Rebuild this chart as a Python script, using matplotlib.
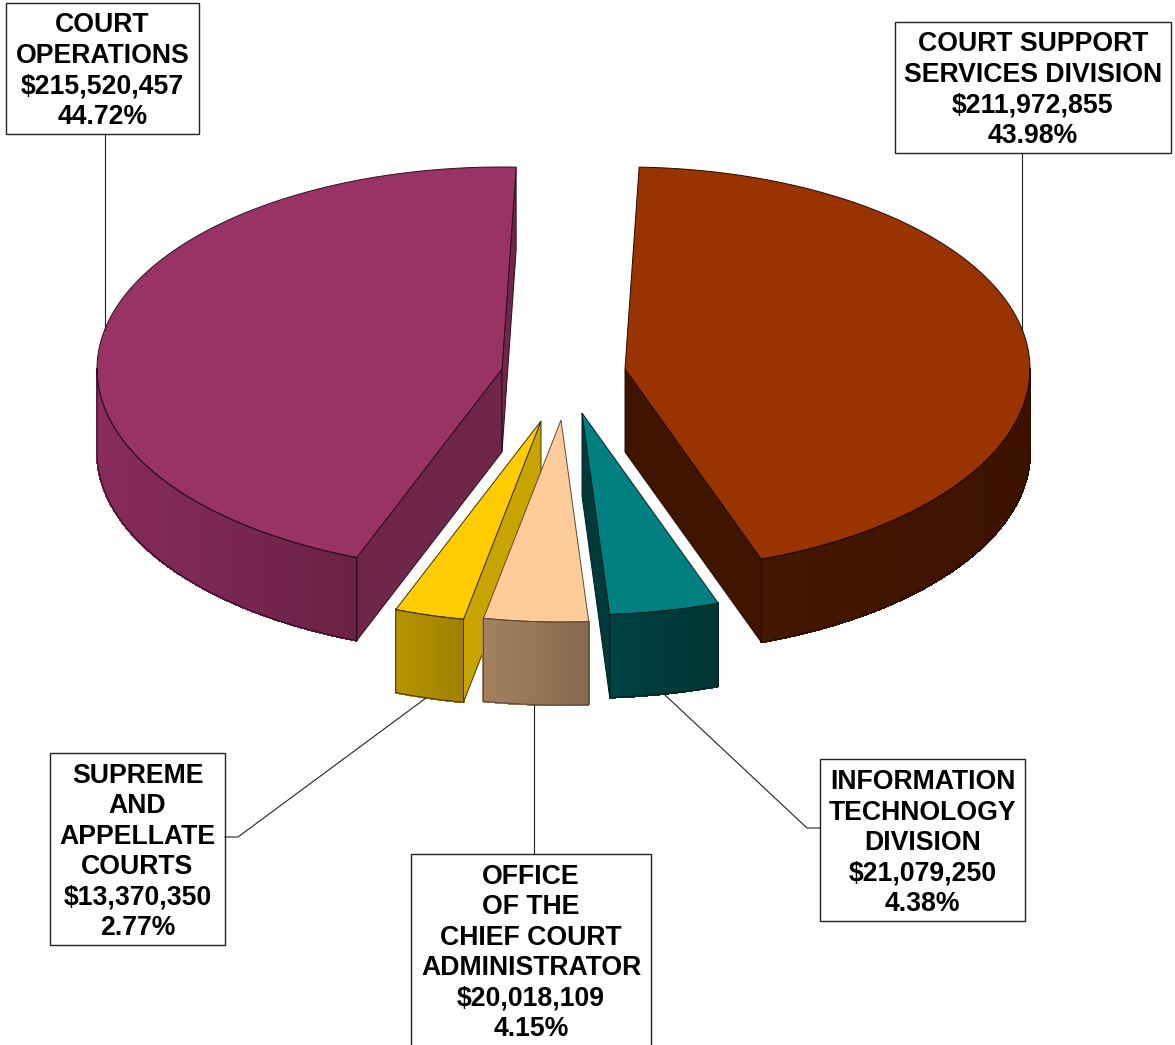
import numpy as np
import matplotlib
matplotlib.use("Agg")
import matplotlib.pyplot as plt
from matplotlib.colors import to_rgb

# data, clockwise from the top of the pie
names = ["COURT SUPPORT\nSERVICES DIVISION", "INFORMATION\nTECHNOLOGY\nDIVISION",
         "OFFICE\nOF THE\nCHIEF COURT\nADMINISTRATOR", "SUPREME\nAND\nAPPELLATE\nCOURTS",
         "COURT\nOPERATIONS"]
amounts = [211972855, 21079250, 20018109, 13370350, 215520457]
amount_labels = ["$211,972,855", "$21,079,250", "$20,018,109", "$13,370,350", "$215,520,457"]
percent_labels = ["43.98%", "4.38%", "4.15%", "2.77%", "44.72%"]

# look of the slices
top_colors = ["#993300", "#008080", "#FFCC99", "#FFCC00", "#993366"]
cut_colors = ["#401500", "#003a3a", "#8a6d50", "#c8a400", "#70264b"]
rim_left = ["#431600", "#004242", "#a3815f", "#b69400", "#882b5d"]
rim_right = ["#3c1300", "#003434", "#856a4e", "#a08000", "#6a2246"]
edge_colors = ["#200a00", "#002020", "#5a4a38", "#403300", "#2a0e1c"]
centers = [(625, 369), (582, 413), (561, 420), (541, 421), (502, 369)]
draw_order = [4, 0, 3, 2, 1]

# pixel boxes x0, y0, x1, y1 and leader lines
boxes = [(895, 22, 1171, 153), (820, 759, 1025, 921), (411, 854, 651, 1060),
         (50, 753, 225, 945), (6, 3, 199, 134)]
text_y = [90, 843, 953, 852, 71]
leaders = [([1022, 1022], [153, 330]), ([665, 807, 820], [695, 828, 828]),
           ([534, 534], [705, 854]), ([426, 238, 225], [698, 837, 837]),
           ([105, 105], [134, 330])]

rx, ry, depth = 405, 202, 83
start_angle = 2

plt.rcParams["font.family"] = ["Liberation Sans", "DejaVu Sans"]


def rim_point(center, angle):
    a = np.radians(angle)
    return center[0] + rx * np.sin(a), center[1] - ry * np.cos(a)


def draw_cut(ax, center, angle, side, color, edge):
    # side is +1 when the slice body lies clockwise from this edge
    a = np.radians(angle)
    r = (rx * np.sin(a), -ry * np.cos(a))
    t = (side * rx * np.cos(a), side * ry * np.sin(a))
    # seen only when going down from the edge leaves the top of the slice
    if r[0] * (r[0] * t[1] - r[1] * t[0]) > 0:
        return
    px, py = rim_point(center, angle)
    ax.fill([center[0], px, px, center[0]], [center[1], py, py + depth, center[1] + depth],
            facecolor=color, edgecolor=edge, linewidth=0.7)


def draw_slice(ax, i, a0, a1):
    center = centers[i]
    # rim is only seen on the front half of the ellipse
    lo, hi = max(a0, 90), min(a1, 270)
    if hi > lo:
        steps = np.linspace(lo, hi, 61)
        xs = [rim_point(center, s)[0] for s in steps]
        ys = [rim_point(center, s)[1] for s in steps]
        left, right = min(xs), max(xs)
        c0, c1 = np.array(to_rgb(rim_left[i])), np.array(to_rgb(rim_right[i]))
        for k in range(60):
            f = ((xs[k] + xs[k + 1]) / 2 - left) / (right - left)
            c = tuple(c0 + (c1 - c0) * f)
            ax.fill([xs[k], xs[k + 1], xs[k + 1], xs[k]],
                    [ys[k], ys[k + 1], ys[k + 1] + depth, ys[k] + depth],
                    facecolor=c, edgecolor=c, linewidth=1.0, antialiased=False)
        ax.plot(xs + xs[::-1] + xs[:1], ys + [y + depth for y in ys[::-1]] + ys[:1],
                color=edge_colors[i], linewidth=0.7)
    draw_cut(ax, center, a0, 1, cut_colors[i], edge_colors[i])
    draw_cut(ax, center, a1, -1, cut_colors[i], edge_colors[i])
    steps = np.linspace(a0, a1, 200)
    xs = [center[0]] + [rim_point(center, s)[0] for s in steps]
    ys = [center[1]] + [rim_point(center, s)[1] for s in steps]
    ax.fill(xs, ys, facecolor=top_colors[i], edgecolor=edge_colors[i], linewidth=0.7)


fig = plt.figure(figsize=(11.75, 10.45), dpi=100)
ax = fig.add_axes([0, 0, 1, 1])
ax.set_xlim(0, 1175)
ax.set_ylim(1045, 0)
ax.axis("off")

sweep = np.array(amounts) / sum(amounts) * 360
edges = start_angle + np.concatenate([[0], np.cumsum(sweep)])

for i in draw_order:
    draw_slice(ax, i, edges[i], edges[i + 1])

for i in range(len(names)):
    ax.plot(leaders[i][0], leaders[i][1], color="#222222", linewidth=0.8)
    x0, y0, x1, y1 = boxes[i]
    ax.fill([x0, x1, x1, x0], [y0, y0, y1, y1], facecolor="white", edgecolor="#222222",
            linewidth=1.0)
    label = names[i] + "\n" + amount_labels[i] + "\n" + percent_labels[i]
    ax.text((x0 + x1) / 2, text_y[i], label, ha="center", va="center", multialignment="center",
            fontsize=19.2, fontweight="bold", color="black", linespacing=1.225)

fig.savefig("out.png", dpi=100, facecolor="white")
